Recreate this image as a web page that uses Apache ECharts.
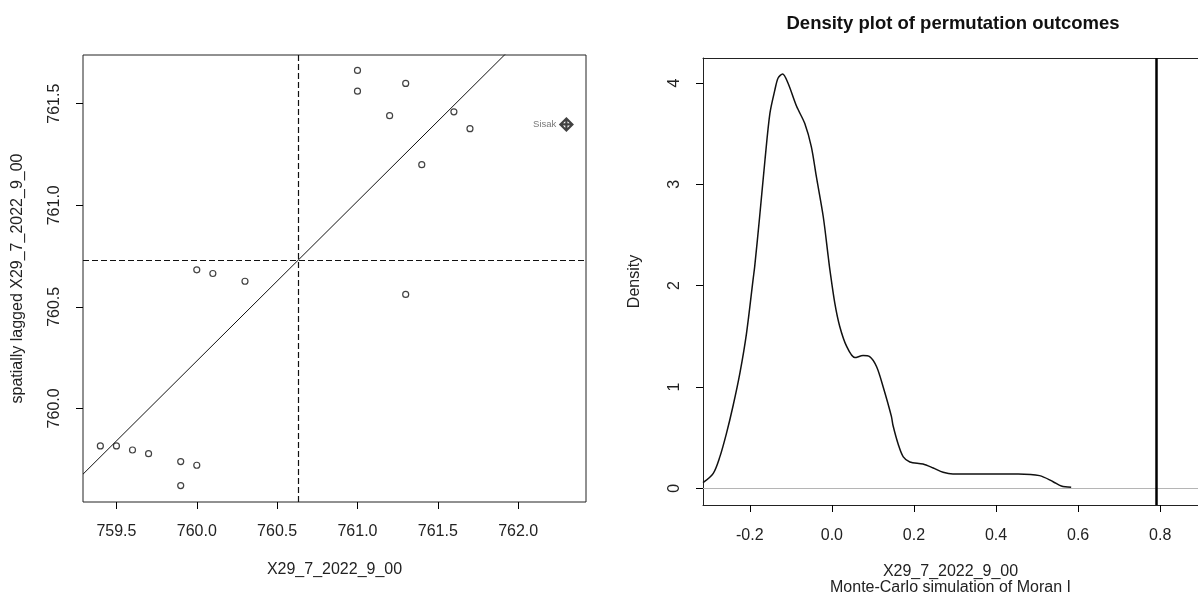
<!DOCTYPE html>
<html>
<head>
<meta charset="utf-8">
<script src="https://cdn.jsdelivr.net/npm/echarts@6/dist/echarts.min.js"></script>
<style>html,body{margin:0;padding:0;background:#fff}#c{width:1198px;height:596px}</style>
</head>
<body>
<div id="c"></div>
<script>
// ---- Moran scatter plot data ----
const lagX = [759.4, 759.5, 759.6, 759.7, 759.9, 760.0, 759.9, 760.0, 760.1, 760.3, 761.0, 761.0, 761.3, 761.2, 761.6, 761.7, 761.4, 761.3];
const lagY = [759.815, 759.815, 759.795, 759.777, 759.738, 759.72, 759.62, 760.682, 760.664, 760.626, 761.664, 761.562, 761.6, 761.441, 761.46, 761.377, 761.2, 760.561];
const inflX = [762.3];
const inflY = [761.398];
const inflNames = ['Sisak'];
const meanX = 760.635;
const meanLag = 760.733;
const moranI = 0.787;
const scatterXTicks = [759.5, 760.0, 760.5, 761.0, 761.5, 762.0];
const scatterYTicks = [760.0, 760.5, 761.0, 761.5];

// ---- Permutation density data ----
const densX = [-0.314, -0.289, -0.273, -0.257, -0.241, -0.224, -0.208, -0.192, -0.188, -0.176, -0.163, -0.151, -0.139, -0.131, -0.120, -0.107, -0.086, -0.066, -0.050, -0.038, -0.021, -0.009, -0.005, 0.007, 0.019, 0.036, 0.056, 0.076, 0.092, 0.109, 0.125, 0.145, 0.149, 0.162, 0.174, 0.190, 0.222, 0.247, 0.271, 0.295, 0.360, 0.454, 0.506, 0.539, 0.559, 0.583];
const densY = [0.055, 0.148, 0.31, 0.54, 0.81, 1.14, 1.53, 2.06, 2.19, 2.68, 3.24, 3.70, 3.93, 4.05, 4.09, 4.0, 3.77, 3.60, 3.37, 3.08, 2.68, 2.29, 2.16, 1.83, 1.60, 1.40, 1.29, 1.31, 1.30, 1.20, 1.00, 0.71, 0.62, 0.43, 0.31, 0.26, 0.24, 0.20, 0.158, 0.141, 0.141, 0.141, 0.125, 0.065, 0.023, 0.01];
const densXTicks = [-0.2, 0.0, 0.2, 0.4, 0.6, 0.8];
const densYTicks = [0, 1, 2, 3, 4];

const x1Min = 759.292, x1Max = 762.422, y1Min = 759.539, y1Max = 761.74;
const x2Min = -0.314, x2Max = 0.892, y2Min = -0.165, y2Max = 4.247;

const FONT = "'Liberation Sans', Arial, sans-serif";
const TXT = '#222';
const FS = 16;
const chart = echarts.init(document.getElementById('c'), null, {renderer: 'canvas'});

const regLine = [x1Min, x1Max].map(x => [x, meanLag + moranI * (x - meanX)]);

function axisCommon(ticks, fmt, margin, rotate, showLine) {
  return {
    axisLine: {show: !!showLine, onZero: false, lineStyle: {color: '#222', width: 1}},
    splitLine: {show: false},
    axisTick: {show: true, inside: false, length: 7, lineStyle: {color: '#000', width: 1}, customValues: ticks},
    axisLabel: {show: true, customValues: ticks, formatter: fmt, margin: margin, rotate: rotate || 0,
      color: TXT, fontSize: FS, fontFamily: FONT}
  };
}

const option = {
  animation: false,
  backgroundColor: '#fff',
  grid: [
    {left: 83, top: 55, width: 503, height: 447, show: true, borderColor: '#222', borderWidth: 1,
      backgroundColor: 'transparent', outerBoundsMode: 'none', containLabel: false},
    {left: 703, top: 58, right: 0, height: 447, show: false, outerBoundsMode: 'none', containLabel: false}
  ],
  xAxis: [
    Object.assign({type: 'value', gridIndex: 0, min: x1Min, max: x1Max,
      name: 'X29_7_2022_9_00', nameLocation: 'middle', nameGap: 60,
      nameTextStyle: {color: TXT, fontSize: FS, fontFamily: FONT}},
      axisCommon(scatterXTicks, v => v.toFixed(1), 22)),
    Object.assign({type: 'value', gridIndex: 1, min: x2Min, max: x2Max, position: 'bottom',
      name: 'X29_7_2022_9_00\nMonte-Carlo simulation of Moran I', nameLocation: 'middle', nameGap: 59,
      nameTextStyle: {color: TXT, fontSize: FS, fontFamily: FONT, lineHeight: 15.5, align: 'center'}},
      axisCommon(densXTicks, v => v.toFixed(1), 23, 0, true)),
    {type: 'value', gridIndex: 1, min: x2Min, max: x2Max, position: 'top',
      axisLine: {show: true, onZero: false, lineStyle: {color: '#222', width: 1}},
      axisTick: {show: false}, axisLabel: {show: false}, splitLine: {show: false}}
  ],
  yAxis: [
    Object.assign({type: 'value', gridIndex: 0, min: y1Min, max: y1Max,
      name: 'spatially lagged X29_7_2022_9_00', nameLocation: 'middle', nameGap: 57,
      nameTextStyle: {color: TXT, fontSize: FS, fontFamily: FONT}},
      axisCommon(scatterYTicks, v => v.toFixed(1), 20, 90)),
    Object.assign({type: 'value', gridIndex: 1, min: y2Min, max: y2Max, position: 'left',
      name: 'Density', nameLocation: 'middle', nameGap: 60,
      nameTextStyle: {color: TXT, fontSize: FS, fontFamily: FONT}},
      axisCommon(densYTicks, v => String(v), 20, 90, true))
  ],
  graphic: [
    {type: 'text', x: 953, y: 14, style: {text: 'Density plot of permutation outcomes', fill: '#111',
      font: "bold 18.5px 'Liberation Sans', Arial, sans-serif", textAlign: 'center'}}
  ],
  series: [
    {type: 'line', xAxisIndex: 0, yAxisIndex: 0, data: regLine, showSymbol: false, clip: true,
      lineStyle: {color: '#111', width: 1}, silent: true,
      markLine: {silent: true, symbol: 'none', label: {show: false},
        lineStyle: {color: '#111', width: 1.2, type: [6, 3]},
        data: [{xAxis: meanX}, {yAxis: meanLag}]}},
    {type: 'scatter', xAxisIndex: 0, yAxisIndex: 0, data: lagX.map((x, i) => [x, lagY[i]]),
      symbol: 'circle', symbolSize: 6, itemStyle: {color: '#fff', borderColor: '#111', borderWidth: 1.2}},
    {type: 'scatter', xAxisIndex: 0, yAxisIndex: 0,
      data: inflX.map((x, i) => ({value: [x, inflY[i]], name: inflNames[i]})),
      symbol: 'path://M0,-6 L6,0 L0,6 L-6,0 Z M0,-6 L0,6 M-6,0 L6,0', symbolSize: 12,
      itemStyle: {color: 'transparent', borderColor: '#111', borderWidth: 2.2},
      label: {show: true, position: 'left', distance: 3, formatter: p => p.name,
        color: '#555', fontSize: 9.5, fontFamily: FONT}},
    {type: 'line', xAxisIndex: 1, yAxisIndex: 1, data: densX.map((x, i) => [x, densY[i]]),
      showSymbol: false, smooth: 0.3, lineStyle: {color: '#111', width: 1.5},
      markLine: {silent: true, symbol: 'none', label: {show: false},
        data: [
          {yAxis: 0, lineStyle: {color: '#b5b5b5', width: 1, type: 'solid'}},
          {xAxis: moranI, lineStyle: {color: '#000', width: 2.5, type: 'solid'}}
        ]}}
  ]
};
chart.setOption(option);
</script>
</body>
</html>
